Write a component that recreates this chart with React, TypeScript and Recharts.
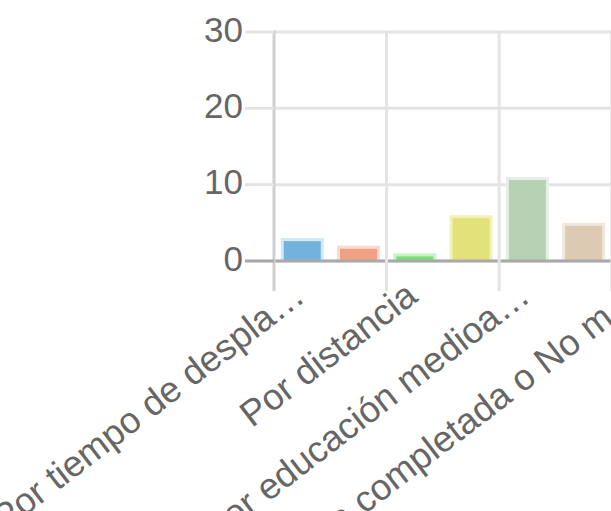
import React from 'react';
import { BarChart, Bar, XAxis, YAxis, CartesianGrid, ReferenceLine } from 'recharts';

const categories = [
  'Por tiempo de despla…',
  'Por costo del trans…',
  'Por distancia',
  'Por seguridad',
  'Por educación medioa…',
  'Por cercanía al tra…',
  'ya completada o No m…',
];
const values = [3, 2, 1, 6, 11, 5, 4];
const fills = ['#72b2dc', '#f0a084', '#7ade7a', '#e3e27a', '#b6d1b4', '#ddcab3', '#c9b3dd'];
const borders = ['#d2e8f6', '#fbdace', '#c9f3c9', '#f2f2b8', '#e6efe5', '#f1e8dc', '#e9dff2'];
const yTicks = [0, 10, 20, 30];

const data = categories.map((name, i) => ({ name, value: values[i] }));

// layout
const W = 668;
const H = 520;
const PLOT_LEFT = 274;
const PLOT_TOP = 32;
const PLOT_BOTTOM = 261;
const BAND = (W - PLOT_LEFT) / categories.length;
const FONT = "'Liberation Sans', Arial, Helvetica, sans-serif";
const GRID = '#e4e4e4';

function XTick({ x, payload }: any) {
  const i = payload.index;
  if (i % 2 !== 0) return <g />;
  const left = x - BAND / 2;
  const tx = x - 3;
  const ty = PLOT_BOTTOM + 29;
  return (
    <g>
      <line x1={left} x2={left} y1={PLOT_TOP - 1.5} y2={PLOT_BOTTOM + 30} stroke={i === 0 ? '#d0d0d0' : GRID} strokeWidth={3} />
      <text
        x={tx}
        y={ty}
        textAnchor="end"
        dominantBaseline="central"
        transform={`rotate(-37.5, ${tx}, ${ty})`}
        fill="#666"
        fontSize={36.5}
        fontFamily={FONT}
      >
        {payload.value}
      </text>
    </g>
  );
}

function YTick({ y, payload }: any) {
  const zero = payload.value === 0;
  return (
    <g>
      <line x1={PLOT_LEFT - 29} x2={PLOT_LEFT} y1={y} y2={y} stroke={zero ? '#a9a9a9' : GRID} strokeWidth={3} />
      <text x={243} y={y} dy={-3} textAnchor="end" dominantBaseline="central" fill="#666" fontSize={35} fontFamily={FONT}>
        {payload.value}
      </text>
    </g>
  );
}

function BarShape({ x, y, width, height, index }: any) {
  if (!height || height <= 0) return <g />;
  const b = 3;
  return (
    <g>
      <rect x={x} y={y} width={width} height={height} fill={borders[index]} />
      <rect x={x + b} y={y + b} width={Math.max(0, width - 2 * b)} height={Math.max(0, height - b)} fill={fills[index]} />
    </g>
  );
}

export default function App() {
  return (
    <div style={{ position: 'fixed', left: 0, top: 0, width: 611, height: 511, overflow: 'hidden', background: '#fff' }}>
      <BarChart
        width={W}
        height={H}
        data={data}
        margin={{ top: PLOT_TOP, right: 0, bottom: 0, left: 0 }}
        barCategoryGap="12%"
      >
        <CartesianGrid vertical={false} stroke={GRID} strokeWidth={3} />
        <XAxis
          dataKey="name"
          interval={0}
          axisLine={false}
          tickLine={false}
          height={H - PLOT_BOTTOM}
          tick={<XTick />}
        />
        <YAxis
          width={PLOT_LEFT}
          domain={[0, 30]}
          ticks={yTicks}
          interval={0}
          axisLine={false}
          tickLine={false}
          tick={<YTick />}
        />
        <Bar dataKey="value" isAnimationActive={false} shape={<BarShape />} />
        <ReferenceLine y={0} stroke="#a9a9a9" strokeWidth={3} />
      </BarChart>
    </div>
  );
}
